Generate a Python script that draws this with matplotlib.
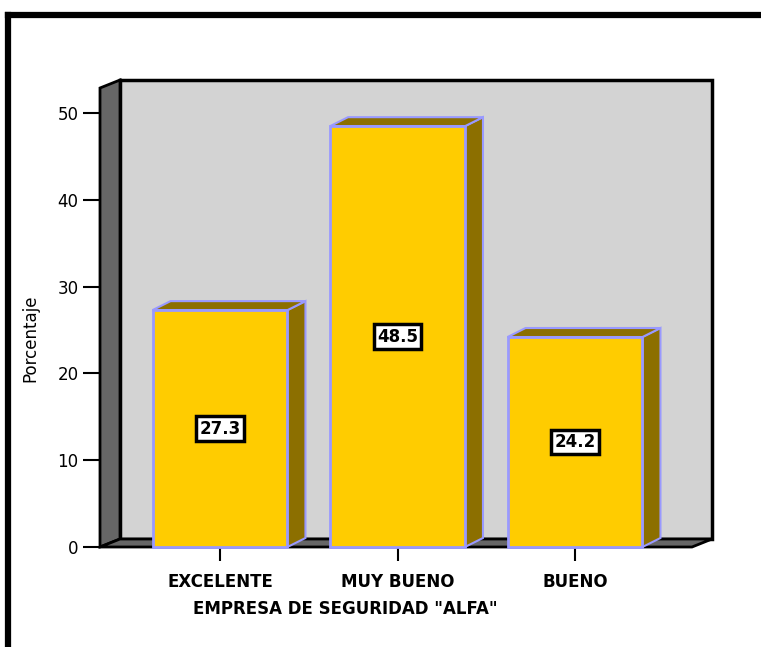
import matplotlib.pyplot as plt
from matplotlib.patches import Polygon, Rectangle
from matplotlib.lines import Line2D

# datos
categorias = ['EXCELENTE', 'MUY BUENO', 'BUENO']
porcentajes = [27.3, 48.5, 24.2]
yticks = [0, 10, 20, 30, 40, 50]

# colores
oro = '#FFCC00'
oro_oscuro = '#8C6F00'
borde_barra = '#9999FF'
pared = '#D3D3D3'
gris = '#666666'

fig = plt.figure(figsize=(7.61, 6.47), dpi=100)
W, H = 761, 647

# plano frontal del grafico (en pixeles)
px0, px1, py0, py1 = 100, 692, 547, 88
ax = fig.add_axes([px0 / W, (H - py0) / H, (px1 - px0) / W, (py0 - py1) / H])

x0, x1 = -0.676, 2.659
ytop = 52.9
ax.set_xlim(x0, x1)
ax.set_ylim(0, ytop)

# profundidad 3D en unidades de datos
DX = 20 / 177.5
DY = 8 / 8.677

# pared del fondo, pared izquierda y piso
ax.add_patch(Polygon([(x0 + DX, DY), (x1 + DX, DY), (x1 + DX, ytop + DY), (x0 + DX, ytop + DY)],
                     closed=True, fc=pared, ec='black', lw=2.5, clip_on=False, zorder=1))
ax.add_patch(Polygon([(x0, 0), (x0 + DX, DY), (x0 + DX, ytop + DY), (x0, ytop)],
                     closed=True, fc=gris, ec='black', lw=2, clip_on=False, zorder=2))
ax.add_patch(Polygon([(x0, 0), (x1, 0), (x1 + DX, DY), (x0 + DX, DY)],
                     closed=True, fc=gris, ec='black', lw=2, clip_on=False, zorder=2))

# barras con efecto 3D
w = 0.76
bdx = 18 / 177.5
bdy = 9 / 8.677
for i, v in enumerate(porcentajes):
    l, r = i - w / 2, i + w / 2
    ax.add_patch(Polygon([(r, 0), (r + bdx, bdy), (r + bdx, v + bdy), (r, v)],
                         closed=True, fc=oro_oscuro, ec=borde_barra, lw=1.5, clip_on=False, zorder=3))
    ax.add_patch(Polygon([(l, v), (r, v), (r + bdx, v + bdy), (l + bdx, v + bdy)],
                         closed=True, fc=oro_oscuro, ec=borde_barra, lw=1.5, clip_on=False, zorder=3))
    ax.add_patch(Rectangle((l, 0), w, v, fc=oro, ec=borde_barra, lw=2, clip_on=False, zorder=4))
    ax.text(i, v / 2, f'{v:.1f}', ha='center', va='center', fontsize=12, fontweight='bold',
            color='black', zorder=5,
            bbox=dict(boxstyle='square,pad=0.2', fc='white', ec='black', lw=2.5))

for s in ax.spines.values():
    s.set_visible(False)
ax.patch.set_visible(False)

ax.set_yticks(yticks)
ax.set_yticklabels([str(t) for t in yticks], fontsize=12)
ax.set_xticks(range(len(categorias)))
ax.set_xticklabels(categorias, fontsize=12, fontweight='bold')
ax.tick_params(axis='y', length=12, width=1.5, pad=3.5, color='black')
ax.tick_params(axis='x', length=10, width=1.5, pad=9, color='black')

ax.set_xlabel('EMPRESA DE SEGURIDAD "ALFA"', fontsize=12, fontweight='bold', va='top')
ax.xaxis.set_label_coords(0.414, -0.1155)
ax.set_ylabel('Porcentaje', fontsize=12, va='center')
ax.yaxis.set_label_coords(-0.118, 0.455)

# marco negro exterior
fig.add_artist(Line2D([8 / W, 8 / W], [0, (H - 15) / H], color='black', lw=4.5,
                      transform=fig.transFigure, solid_capstyle='projecting'))
fig.add_artist(Line2D([8 / W, 1], [(H - 15) / H, (H - 15) / H], color='black', lw=4.5,
                      transform=fig.transFigure, solid_capstyle='projecting'))

fig.savefig('out.png', dpi=100)
